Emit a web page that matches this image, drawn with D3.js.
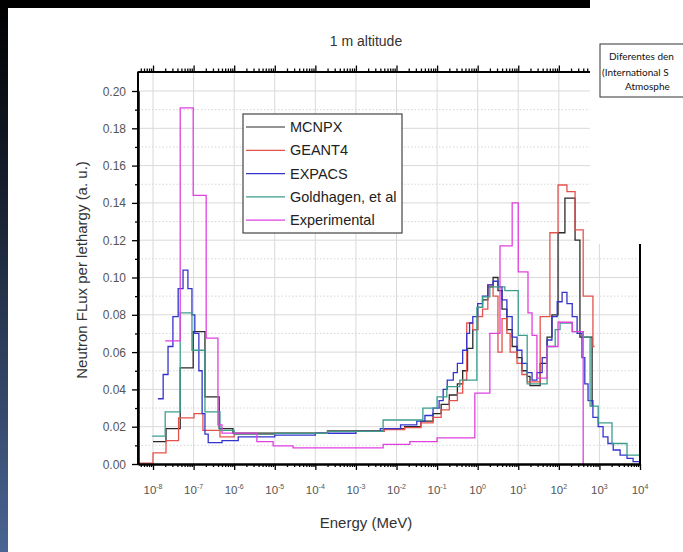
<!DOCTYPE html>
<html><head><meta charset="utf-8">
<script src="https://cdn.jsdelivr.net/npm/d3@7"></script>
<style>body{margin:0;background:#fff}svg{display:block}</style>
</head><body>
<svg id="c" width="683" height="552"></svg>
<script>
// ---------------- data ----------------
const seriesNames = ["MCNPX", "GEANT4", "EXPACS", "Goldhagen, et al", "Experimental"];
const seriesColors = ["#2a2a2a", "#e5524c", "#3434cc", "#3b9e8c", "#e040e0"];

// bin edges as log10(Energy / MeV), flux per lethargy per bin
const mcnpxLogE = [-8.00,-7.68,-7.33,-7.01,-6.72,-6.37,-6.03,-5.0,-3.7,-2.3,-1.8,-1.4,-1.1,-0.9,-0.7,-0.5,-0.37,-0.25,-0.12,0.0,0.12,0.25,0.38,0.50,0.60,0.72,0.85,0.97,1.09,1.22,1.29,1.54,1.71,1.83,1.98,2.15,2.40,2.52,2.82,2.86];
const mcnpxFlux = [0.012,0.019,0.0515,0.071,0.036,0.019,0.0165,0.0165,0.0178,0.019,0.020,0.023,0.027,0.032,0.037,0.043,0.050,0.062,0.072,0.084,0.088,0.095,0.100,0.093,0.083,0.072,0.063,0.057,0.050,0.047,0.042,0.054,0.068,0.080,0.124,0.1426,0.120,0.068,0.031];

const geant4LogE = [-8.37,-8.00,-7.68,-7.37,-6.99,-6.77,-6.35,-6.0,-5.0,-3.7,-2.3,-1.8,-1.4,-1.1,-0.9,-0.7,-0.5,-0.37,-0.27,-0.12,0.0,0.12,0.25,0.38,0.50,0.60,0.72,0.80,0.97,1.09,1.22,1.54,1.78,1.98,2.20,2.40,2.60,2.84,2.88];
const geant4Flux = [0.0005,0.006,0.0125,0.0247,0.027,0.018,0.0145,0.016,0.0165,0.0175,0.0185,0.0195,0.022,0.025,0.029,0.034,0.038,0.045,0.0756,0.072,0.079,0.083,0.096,0.090,0.060,0.078,0.070,0.060,0.054,0.048,0.044,0.079,0.124,0.1496,0.146,0.1255,0.090,0.063];

const expacsLogE = [-7.88,-7.75,-7.63,-7.51,-7.38,-7.26,-7.14,-7.04,-6.97,-6.87,-6.79,-6.72,-6.64,-6.30,-5.90,-5.0,-4.0,-3.0,-2.4,-1.9,-1.5,-1.3,-1.1,-0.95,-0.85,-0.75,-0.6,-0.5,-0.37,-0.27,-0.2,-0.12,0.0,0.12,0.25,0.38,0.50,0.60,0.72,0.85,0.97,1.09,1.22,1.34,1.46,1.59,1.71,1.83,1.96,2.08,2.20,2.33,2.45,2.57,2.64,2.72,2.84,2.97,3.09,3.21,3.34,3.51,3.68,3.83,4.0];
const expacsFlux = [0.035,0.048,0.063,0.079,0.094,0.104,0.094,0.080,0.070,0.050,0.027,0.016,0.0115,0.0125,0.0145,0.0155,0.0165,0.0175,0.019,0.021,0.023,0.026,0.030,0.034,0.040,0.045,0.049,0.054,0.061,0.070,0.0756,0.079,0.086,0.090,0.096,0.098,0.095,0.088,0.079,0.068,0.061,0.054,0.049,0.045,0.049,0.057,0.0665,0.079,0.087,0.092,0.086,0.079,0.070,0.057,0.043,0.034,0.025,0.020,0.0145,0.011,0.0075,0.0048,0.003,0.0013];

const goldhagenLogE = [-8.02,-7.70,-7.33,-7.04,-6.72,-6.35,-6.0,-5.0,-3.7,-2.33,-1.35,-1.0,-0.76,-0.44,-0.02,0.12,0.30,0.67,1.00,1.22,1.71,1.91,2.03,2.33,2.60,2.77,2.97,3.31,3.68,4.0];
const goldhagenFlux = [0.015,0.028,0.081,0.061,0.028,0.018,0.016,0.0165,0.0175,0.0236,0.030,0.036,0.0415,0.045,0.084,0.0896,0.095,0.093,0.069,0.043,0.063,0.072,0.0756,0.071,0.068,0.031,0.022,0.011,0.0048];

const experimentalLogE = [-7.70,-7.33,-7.01,-6.69,-6.40,-6.30,-5.44,-5.04,-4.55,-2.33,-1.67,-1.0,-0.07,0.30,0.55,0.85,1.00,1.24,1.34,1.46,1.71,1.98,2.33,2.60,2.60];
const experimentalFlux = [0.066,0.191,0.144,0.0675,0.021,0.0166,0.012,0.0097,0.0087,0.0105,0.012,0.014,0.038,0.070,0.117,0.140,0.103,0.081,0.069,0.046,0.063,0.076,0.071,0.0];

const seriesLogE = [mcnpxLogE, geant4LogE, expacsLogE, goldhagenLogE, experimentalLogE];
const seriesFlux = [mcnpxFlux, geant4Flux, expacsFlux, goldhagenFlux, experimentalFlux];

const xTickExponents = [-8,-7,-6,-5,-4,-3,-2,-1,0,1,2,3,4];
const yTickValues = [0,0.02,0.04,0.06,0.08,0.10,0.12,0.14,0.16,0.18,0.20];

// ---------------- drawing ----------------
const svg = d3.select("#c");
const W = 683, H = 552;
const L = 138, R = 640, T = 71.5, B = 464;

const x = d3.scaleLog().domain([Math.pow(10,-8.37), 1e4]).range([L, R]);
const y = d3.scaleLinear().domain([0, 0.2]).range([B, 91]);

svg.append("rect").attr("width", W).attr("height", H).attr("fill", "#fff");

// slide decorations
const defs = svg.append("defs");
const grad = defs.append("linearGradient").attr("id","strip").attr("x1",0).attr("y1",0).attr("x2",0).attr("y2",1);
grad.append("stop").attr("offset","0%").attr("stop-color","#000");
grad.append("stop").attr("offset","40%").attr("stop-color","#1a2436");
grad.append("stop").attr("offset","100%").attr("stop-color","#4a6594");
svg.append("rect").attr("x",0).attr("y",0).attr("width",8).attr("height",H).attr("fill","url(#strip)");
svg.append("rect").attr("x",0).attr("y",0).attr("width",590).attr("height",8).attr("fill","#000");

defs.append("clipPath").attr("id","plot").append("rect").attr("x",L).attr("y",T).attr("width",R-L).attr("height",B-T);

// gridlines
const g = svg.append("g");
const minorY = d3.range(1, 21, 2).map(d => d * 0.01);
g.selectAll(".gym").data(minorY).enter().append("line")
  .attr("x1", L).attr("x2", R).attr("y1", d => y(d)).attr("y2", d => y(d))
  .attr("stroke", "#d6d6d6").attr("stroke-width", 1).attr("stroke-dasharray", "1.5,2");
g.selectAll(".gy").data(yTickValues.slice(1)).enter().append("line")
  .attr("x1", L).attr("x2", R).attr("y1", d => y(d)).attr("y2", d => y(d))
  .attr("stroke", "#d9d9d9").attr("stroke-width", 1);
g.selectAll(".gx").data(xTickExponents.slice(0, -1)).enter().append("line")
  .attr("x1", d => x(Math.pow(10, d))).attr("x2", d => x(Math.pow(10, d)))
  .attr("y1", T).attr("y2", B)
  .attr("stroke", "#d9d9d9").attr("stroke-width", 1);

// series
const line = d3.line().x(d => x(Math.pow(10, d[0]))).y(d => y(d[1])).curve(d3.curveStepAfter);
const plotG = svg.append("g").attr("clip-path", "url(#plot)");
seriesNames.forEach((name, i) => {
  const e = seriesLogE[i], f = seriesFlux[i];
  const pts = f.map((v, k) => [e[k], v]);
  pts.push([e[e.length - 1], f[f.length - 1]]);
  plotG.append("path").datum(pts).attr("d", line)
    .attr("fill", "none").attr("stroke", seriesColors[i]).attr("stroke-width", 1.3);
});

// axes
const majorX = xTickExponents.map(d => Math.pow(10, d));
const minorX = [];
for (let p = -9; p < 4; p++) for (let k = 2; k <= 9; k++) {
  const v = k * Math.pow(10, p);
  if (v > x.domain()[0] && v < 1e4) minorX.push(v);
}
function styleAxis(sel) {
  sel.select(".domain").attr("stroke", "#000").attr("stroke-width", 2);
  sel.selectAll(".tick line").attr("stroke", "#000").attr("stroke-width", 1.3);
}
svg.append("g").attr("transform", `translate(0,${B})`)
  .call(d3.axisBottom(x).tickValues(minorX).tickSize(3).tickSizeOuter(0).tickFormat("")).call(styleAxis);
svg.append("g").attr("transform", `translate(0,${B})`)
  .call(d3.axisBottom(x).tickValues(majorX).tickSize(6).tickSizeOuter(0).tickFormat("")).call(styleAxis);
svg.append("g").attr("transform", `translate(0,${T})`)
  .call(d3.axisTop(x).tickValues(minorX).tickSize(3).tickSizeOuter(0).tickFormat("")).call(styleAxis);
svg.append("g").attr("transform", `translate(0,${T})`)
  .call(d3.axisTop(x).tickValues(majorX).tickSize(6).tickSizeOuter(0).tickFormat("")).call(styleAxis);
const yAll = d3.scaleLinear().domain([0, 0.2]).range([B, 91]);
svg.append("g").attr("transform", `translate(${L},0)`)
  .call(d3.axisLeft(y).tickValues(minorY).tickSize(3).tickSizeOuter(0).tickFormat("")).call(styleAxis);
svg.append("g").attr("transform", `translate(${L},0)`)
  .call(d3.axisLeft(y).tickValues(yTickValues).tickSize(6).tickSizeOuter(0).tickFormat("")).call(styleAxis);
// extend left / right axis lines to the top axis
svg.append("line").attr("x1", L).attr("x2", L).attr("y1", T).attr("y2", B).attr("stroke", "#000").attr("stroke-width", 2);
svg.append("line").attr("x1", R).attr("x2", R).attr("y1", T).attr("y2", B).attr("stroke", "#000").attr("stroke-width", 2);

// tick labels
const font = "Liberation Sans, Arial, sans-serif";
svg.append("g").selectAll("text").data(yTickValues).enter().append("text")
  .attr("x", L - 12).attr("y", d => y(d) + 4.5).attr("text-anchor", "end")
  .attr("font-family", font).attr("font-size", 12).attr("fill", "#555")
  .text(d => d.toFixed(2));
const xl = svg.append("g").selectAll("text").data(xTickExponents).enter().append("text")
  .attr("x", d => x(Math.pow(10, d))).attr("y", 494).attr("text-anchor", "middle")
  .attr("font-family", font).attr("font-size", 11.5).attr("fill", "#555");
xl.append("tspan").text("10");
xl.append("tspan").attr("dy", -5).attr("font-size", 7).text(d => String(d));

// titles
svg.append("text").attr("x", 366).attr("y", 46).attr("text-anchor", "middle")
  .attr("font-family", font).attr("font-size", 14).attr("fill", "#333").text("1 m altitude");
svg.append("text").attr("x", 366).attr("y", 528).attr("text-anchor", "middle")
  .attr("font-family", font).attr("font-size", 15).attr("fill", "#333").text("Energy (MeV)");
svg.append("text").attr("transform", "translate(87,270) rotate(-90)").attr("text-anchor", "middle")
  .attr("font-family", font).attr("font-size", 15).attr("fill", "#333").text("Neutron FLux per lethargy (a. u.)");

// legend
const lg = svg.append("g");
lg.append("rect").attr("x", 243).attr("y", 114).attr("width", 159).attr("height", 119)
  .attr("fill", "#fff").attr("stroke", "#444").attr("stroke-width", 1.2);
seriesNames.forEach((name, i) => {
  const cy = 127 + i * 23.3;
  lg.append("line").attr("x1", 246).attr("x2", 285).attr("y1", cy).attr("y2", cy)
    .attr("stroke", seriesColors[i]).attr("stroke-width", 1.2);
  lg.append("text").attr("x", 290).attr("y", cy + 5).attr("font-family", font)
    .attr("font-size", 14.5).attr("fill", "#222").text(name);
});

// white overlay top-right and note box
svg.append("rect").attr("x", 590).attr("y", 0).attr("width", 93).attr("height", 244).attr("fill", "#fff");
svg.append("rect").attr("x", 600).attr("y", 44).attr("width", 100).attr("height", 53)
  .attr("fill", "#fff").attr("stroke", "#333").attr("stroke-width", 1);
const noteFont = "Lato, Open Sans, sans-serif";
[["Diferentes den", 609, 60], ["(International S", 602, 76], ["Atmosphe", 625, 90]].forEach(t => {
  svg.append("text").attr("x", t[1]).attr("y", t[2]).attr("font-family", noteFont)
    .attr("font-size", 10).attr("fill", "#111").text(t[0]);
});
</script>
</body></html>
